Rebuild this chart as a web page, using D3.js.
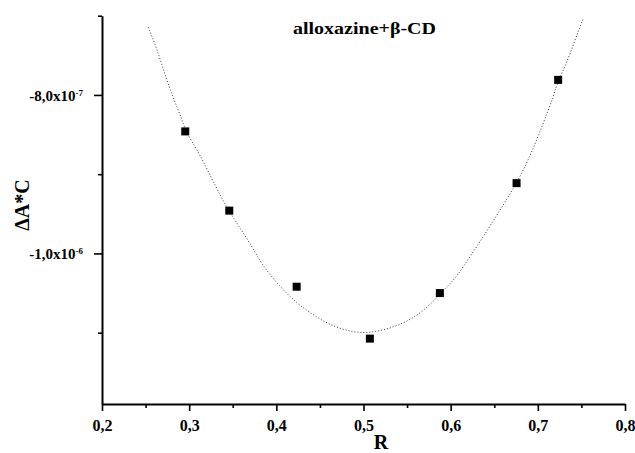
<!DOCTYPE html>
<html>
<head>
<meta charset="utf-8">
<script src="https://cdn.jsdelivr.net/npm/d3@7"></script>
<style>
  html, body { margin: 0; padding: 0; background: #fff; }
  svg { display: block; font-family: "Liberation Serif", "Times New Roman", serif; font-weight: bold; }
</style>
</head>
<body>
<script>
// Measured points: molar ratio R vs ΔA*C
const ratioR = [0.2955, 0.3460, 0.4233, 0.5073, 0.5876, 0.6756, 0.7233];
const deltaAC = [-8.46e-7, -9.46e-7, -1.042e-6, -1.1075e-6, -1.050e-6, -9.113e-7, -7.81e-7];

// Fitted curve, sampled along its length
const fitR = [0.2531, 0.2628, 0.2723, 0.2818, 0.2914, 0.2960, 0.3105, 0.3239, 0.3373, 0.3460,
              0.3583, 0.3736, 0.3821, 0.4042, 0.4234, 0.4424, 0.4616, 0.4807, 0.4998, 0.5189,
              0.5381, 0.5571, 0.5763, 0.5954, 0.6069, 0.6222, 0.6374, 0.6566, 0.6758, 0.6910,
              0.7063, 0.7177, 0.7235, 0.7331, 0.7426, 0.7522];
const fitAC = [-7.146e-7, -7.411e-7, -7.748e-7, -8.042e-7, -8.295e-7, -8.464e-7, -8.716e-7, -9.010e-7, -9.304e-7, -9.465e-7,
               -9.683e-7, -9.935e-7, -1.0125e-6, -1.0420e-6, -1.0629e-6, -1.0777e-6, -1.0903e-6, -1.0975e-6, -1.1008e-6, -1.0979e-6,
               -1.0916e-6, -1.0819e-6, -1.0651e-6, -1.0425e-6, -1.0294e-6, -1.0041e-6, -9.789e-7, -9.452e-7, -9.115e-7, -8.779e-7,
               -8.358e-7, -8.022e-7, -7.811e-7, -7.601e-7, -7.307e-7, -7.033e-7];

// Axis ticks
const xMajorTicks = [0.2, 0.3, 0.4, 0.5, 0.6, 0.7, 0.8];
const xTickLabels = ["0,2", "0,3", "0,4", "0,5", "0,6", "0,7", "0,8"];
const xMinorTicks = [0.25, 0.35, 0.45, 0.55, 0.65, 0.75];
const yMajorTicks = [-8e-7, -1e-6];
const yTickMantissa = ["-8,0x10", "-1,0x10"];
const yTickExponent = ["-7", "-6"];
const yMinorTicks = [-7e-7, -9e-7, -1.1e-6];

const title = "alloxazine+β-CD";
const xTitle = "R";
const yTitle = "ΔA*C";

const W = 635, H = 453;
const svg = d3.select("body").append("svg").attr("width", W).attr("height", H);

const x = d3.scaleLinear().domain([0.2, 0.8]).range([102, 625]);
const y = d3.scaleLinear().domain([-1.19e-6, -7e-7]).range([404, 15.7]);

const labelStyle = sel => sel
  .attr("fill", "#000")
  .style("font-family", "'Liberation Serif', serif")
  .style("font-weight", "bold");

// Minor ticks (no labels)
svg.append("g")
  .attr("transform", `translate(0,${y.range()[0]})`)
  .call(d3.axisBottom(x).tickValues(xMinorTicks).tickSize(4).tickFormat(""))
  .call(g => g.select(".domain").remove())
  .call(g => g.selectAll("line").attr("stroke", "#000").attr("stroke-width", 1.6));

svg.append("g")
  .attr("transform", `translate(${x.range()[0]},0)`)
  .call(d3.axisLeft(y).tickValues(yMinorTicks).tickSize(4).tickFormat(""))
  .call(g => g.select(".domain").remove())
  .call(g => g.selectAll("line").attr("stroke", "#000").attr("stroke-width", 1.6));

// Bottom axis
const gx = svg.append("g")
  .attr("transform", `translate(0,${y.range()[0]})`)
  .call(d3.axisBottom(x).tickValues(xMajorTicks).tickSizeInner(7).tickSizeOuter(0).tickPadding(9)
    .tickFormat((d, i) => xTickLabels[i]));
gx.select(".domain").attr("stroke", "#000").attr("stroke-width", 2);
gx.selectAll("line").attr("stroke", "#000").attr("stroke-width", 1.6);
gx.selectAll("text").call(labelStyle).style("font-size", "16px");

// Left axis
const gy = svg.append("g")
  .attr("transform", `translate(${x.range()[0]},0)`)
  .call(d3.axisLeft(y).tickValues(yMajorTicks).tickSizeInner(8).tickSizeOuter(0).tickPadding(11)
    .tickFormat(""));
gy.select(".domain").attr("stroke", "#000").attr("stroke-width", 2);
gy.selectAll("line").attr("stroke", "#000").attr("stroke-width", 1.6);
gy.selectAll(".tick").each(function (d, i) {
  const t = d3.select(this).select("text")
    .call(labelStyle)
    .attr("dy", "0.35em")
    .style("font-size", "15px");
  t.text(null);
  t.append("tspan").text(yTickMantissa[i]);
  t.append("tspan").attr("dy", "-0.55em").style("font-size", "9px").text(yTickExponent[i]);
});

// Fitted curve (dotted)
const fitData = fitR.map((r, i) => ({ r, v: fitAC[i] }));
svg.append("path")
  .datum(fitData)
  .attr("fill", "none")
  .attr("stroke", "#333")
  .attr("stroke-width", 1)
  .attr("stroke-dasharray", "1,2")
  .attr("d", d3.line().x(d => x(d.r)).y(d => y(d.v)).curve(d3.curveBasis));

// Measured points
const pts = ratioR.map((r, i) => ({ r, v: deltaAC[i] }));
const s = 8;
svg.append("g").selectAll("rect")
  .data(pts).join("rect")
  .attr("x", d => x(d.r) - s / 2)
  .attr("y", d => y(d.v) - s / 2)
  .attr("width", s).attr("height", s)
  .attr("fill", "#000");

// Titles
svg.append("text")
  .attr("x", 293).attr("y", 34)
  .attr("textLength", 143)
  .attr("lengthAdjust", "spacingAndGlyphs")
  .style("font-size", "17px")
  .text(title);

svg.append("text")
  .attr("x", 381).attr("y", 449)
  .attr("text-anchor", "middle")
  .style("font-size", "20px")
  .text(xTitle);

svg.append("text")
  .attr("transform", "translate(29,205) rotate(-90)")
  .attr("text-anchor", "middle")
  .style("font-size", "20px")
  .text(yTitle);
</script>
</body>
</html>
